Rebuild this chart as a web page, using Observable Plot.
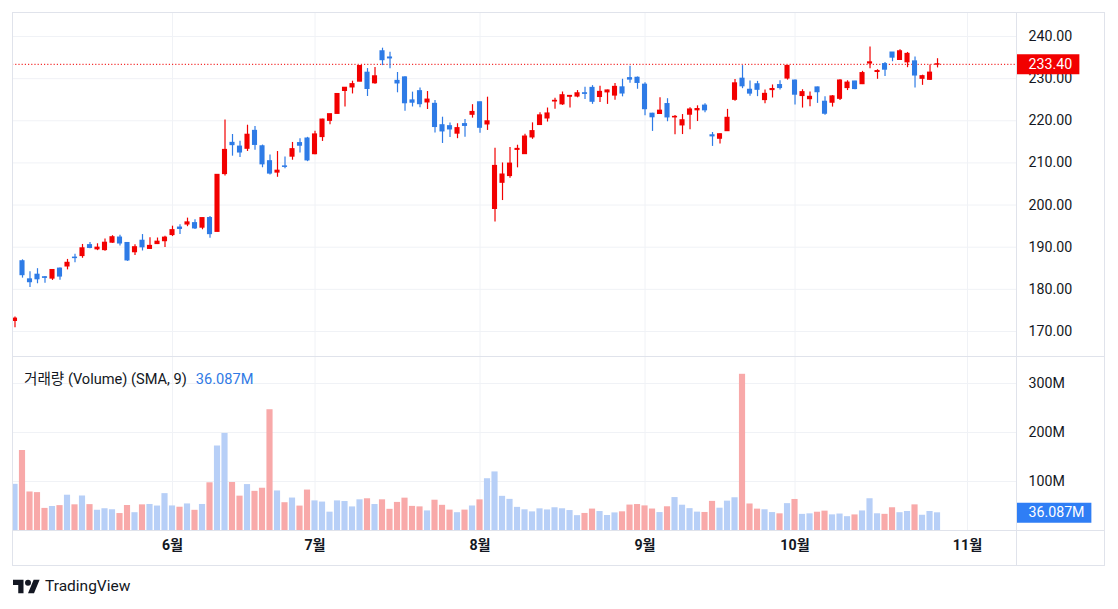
<!DOCTYPE html>
<html><head><meta charset="utf-8">
<script src="https://cdn.jsdelivr.net/npm/d3@7"></script>
<script src="https://cdn.jsdelivr.net/npm/@observablehq/plot@0.6"></script>
<style>
html,body{margin:0;padding:0;background:#fff;}
#wrap{position:relative;width:1118px;height:609px;overflow:hidden;font-family:Roboto,"Noto Sans CJK KR",sans-serif;color:#131722;}
#wrap .pane{position:absolute;left:0;}
.line{position:absolute;background:#e0e3eb;}
#legend{position:absolute;left:24px;top:367px;font-size:14.6px;color:#131722;white-space:nowrap;}
#legend span{color:#2f7ae5;margin-left:9px;}
#logo{position:absolute;left:13px;top:577px;display:flex;align-items:center;gap:5px;font-size:15.5px;color:#131722;}
</style></head>
<body><div id="wrap">
<div id="p1" class="pane" style="top:0"></div>
<div id="p2" class="pane" style="top:356px"></div>
<div class="line" style="left:12px;top:12px;width:1093px;height:1px"></div>
<div class="line" style="left:12px;top:565px;width:1093px;height:1px"></div>
<div class="line" style="left:12px;top:12px;width:1px;height:554px"></div>
<div class="line" style="left:1104px;top:12px;width:1px;height:554px"></div>
<div class="line" style="left:12px;top:356px;width:1093px;height:1px"></div>
<div class="line" style="left:12px;top:530px;width:1093px;height:1px"></div>
<div class="line" style="left:1016px;top:12px;width:1px;height:554px"></div>
<div id="legend">거래량 (Volume) (SMA, 9)<span>36.087M</span></div>
<div id="logo"><svg width="27" height="15" viewBox="0 3 36 20"><path d="M14 22H7V11H0V4h14v18zM28 22h-8l7.5-18h8L28 22z" fill="#131722"/><circle cx="20" cy="8" r="4" fill="#131722"/></svg><span>TradingView</span></div>
</div>
<script>
// ---- data (daily sessions) ----
const dates = [
"2024-05-02","2024-05-03","2024-05-06","2024-05-07","2024-05-08","2024-05-09","2024-05-10","2024-05-13","2024-05-14","2024-05-15","2024-05-16","2024-05-17","2024-05-20","2024-05-21","2024-05-22","2024-05-23","2024-05-24","2024-05-28","2024-05-29","2024-05-30","2024-05-31",
"2024-06-03","2024-06-04","2024-06-05","2024-06-06","2024-06-07","2024-06-10","2024-06-11","2024-06-12","2024-06-13","2024-06-14","2024-06-17","2024-06-18","2024-06-20","2024-06-21","2024-06-24","2024-06-25","2024-06-26","2024-06-27","2024-06-28",
"2024-07-01","2024-07-02","2024-07-03","2024-07-05","2024-07-08","2024-07-09","2024-07-10","2024-07-11","2024-07-12","2024-07-15","2024-07-16","2024-07-17","2024-07-18","2024-07-19","2024-07-22","2024-07-23","2024-07-24","2024-07-25","2024-07-26","2024-07-29","2024-07-30","2024-07-31",
"2024-08-01","2024-08-02","2024-08-05","2024-08-06","2024-08-07","2024-08-08","2024-08-09","2024-08-12","2024-08-13","2024-08-14","2024-08-15","2024-08-16","2024-08-19","2024-08-20","2024-08-21","2024-08-22","2024-08-23","2024-08-26","2024-08-27","2024-08-28","2024-08-29","2024-08-30",
"2024-09-03","2024-09-04","2024-09-05","2024-09-06","2024-09-09","2024-09-10","2024-09-11","2024-09-12","2024-09-13","2024-09-16","2024-09-17","2024-09-18","2024-09-19","2024-09-20","2024-09-23","2024-09-24","2024-09-25","2024-09-26","2024-09-27","2024-09-30",
"2024-10-01","2024-10-02","2024-10-03","2024-10-04","2024-10-07","2024-10-08","2024-10-09","2024-10-10","2024-10-11","2024-10-14","2024-10-15","2024-10-16","2024-10-17","2024-10-18","2024-10-21","2024-10-22","2024-10-23","2024-10-24","2024-10-25","2024-10-28"];
const futureDates = ["2024-10-29","2024-10-30","2024-10-31","2024-11-01","2024-11-04","2024-11-05","2024-11-06","2024-11-07","2024-11-08","2024-11-11"];
const open = [
172.51,186.65,182.35,183.45,182.85,182.56,184.90,185.44,187.51,187.91,190.47,189.51,189.33,191.09,192.27,190.98,188.82,191.51,189.61,190.76,191.44,
192.90,194.64,195.40,195.69,194.65,196.90,193.65,207.37,214.74,213.85,213.37,217.59,213.93,210.39,207.72,209.15,211.50,214.69,215.77,
212.09,216.15,220.00,221.65,227.09,227.93,229.30,231.39,228.92,236.48,235.00,229.45,230.28,224.82,227.01,224.37,224.00,218.93,218.70,216.96,219.19,221.44,
224.37,219.15,199.09,205.30,206.90,213.11,212.10,216.07,219.01,220.57,224.60,223.92,225.72,225.77,226.52,227.79,225.66,226.76,226.00,227.92,230.10,230.19,
228.55,221.66,221.63,223.95,220.82,218.92,221.46,222.50,223.58,216.54,215.75,217.55,224.99,229.97,227.34,228.65,224.93,227.30,228.46,230.04,
229.52,225.89,225.14,227.90,224.50,224.30,225.23,227.78,229.30,228.70,233.61,231.60,233.43,236.18,234.45,233.89,234.08,229.98,229.74,233.32];
const high = [
173.42,187.00,184.20,184.90,183.07,184.66,185.09,187.10,188.30,190.65,191.10,190.81,191.92,192.73,192.82,191.00,190.58,193.00,192.25,192.18,192.57,
194.99,195.32,196.90,196.50,196.94,197.30,207.16,220.20,216.75,215.17,218.95,218.63,214.24,211.89,212.70,211.38,214.86,215.74,216.07,
217.51,220.38,221.55,226.45,227.85,229.40,233.08,232.39,232.64,237.23,236.27,231.46,230.44,226.80,227.78,226.94,224.80,220.85,219.49,219.30,220.33,223.82,
224.48,225.60,213.50,209.99,213.64,214.20,216.78,219.51,221.89,223.03,225.35,226.83,225.99,227.17,227.98,228.34,228.22,227.28,228.85,229.86,232.92,230.40,
229.00,221.78,225.48,225.24,221.27,221.48,223.09,223.55,224.04,217.22,216.90,222.71,229.82,233.09,229.45,229.35,227.29,228.50,229.52,233.00,
229.65,227.37,226.81,228.00,225.69,225.98,229.75,229.50,229.41,231.73,237.49,232.12,233.85,236.18,236.85,236.22,235.14,230.82,233.22,234.73];
const low = [
170.89,182.66,180.42,181.32,181.45,182.11,182.13,184.62,186.29,187.37,189.66,189.18,189.01,190.92,190.27,186.63,188.04,189.10,189.51,190.63,189.91,
192.52,193.03,194.87,194.17,194.14,192.15,193.63,206.90,211.60,211.30,212.72,213.00,208.85,207.11,206.59,208.61,210.64,212.35,210.30,
211.92,215.10,219.03,221.65,223.25,226.37,229.25,225.77,228.68,233.09,232.33,226.64,222.27,223.28,223.09,222.68,217.13,214.62,216.01,215.75,216.12,220.63,
217.02,217.71,196.00,201.07,206.39,208.83,211.97,215.60,219.01,219.70,222.76,223.65,223.04,225.45,225.05,223.90,224.33,223.89,224.89,225.68,228.88,227.48,
221.17,217.48,221.52,219.77,216.71,216.73,217.89,219.82,221.91,213.92,214.50,217.54,224.63,227.62,225.81,225.73,224.02,225.41,227.30,229.65,
223.74,223.02,223.32,224.13,221.33,223.25,224.83,227.17,227.34,228.60,232.37,229.84,230.52,234.01,234.45,232.60,227.76,228.41,229.57,232.55];
const close = [
173.03,183.38,181.71,182.40,182.74,184.57,183.05,186.28,187.43,189.72,189.84,189.87,191.04,192.35,190.90,186.88,189.98,189.99,190.29,191.29,192.25,
194.03,194.35,195.87,194.48,196.89,193.12,207.15,213.07,214.24,212.49,216.67,214.29,209.68,207.49,208.14,209.07,213.25,214.10,210.62,
216.75,220.27,221.55,226.34,227.82,228.68,232.98,227.57,230.54,234.40,234.82,228.88,224.18,224.31,223.96,225.01,218.54,217.49,217.96,218.24,218.80,222.08,
218.36,219.86,209.27,207.23,209.82,213.31,216.24,217.53,221.27,221.72,224.72,226.05,225.89,226.51,226.40,224.53,226.84,227.18,228.03,226.49,229.79,229.00,
222.77,220.85,222.38,220.82,220.91,220.11,222.66,222.77,222.50,216.32,216.79,220.69,228.87,228.20,226.47,227.37,226.37,227.52,227.79,233.00,
226.21,226.78,225.67,226.80,221.69,225.77,229.54,229.04,227.55,231.30,233.85,231.78,232.15,235.00,236.48,235.86,230.76,230.57,231.41,233.40];
const volumeM = [
94.2,163.2,78.6,77.3,45.1,48.98,50.76,72.0,52.4,70.4,52.8,41.3,44.4,42.3,34.6,51.0,36.3,52.3,53.1,49.9,75.2,
50.1,47.5,54.2,41.2,53.1,97.3,172.4,198.1,97.9,70.1,93.7,79.9,86.2,246.4,80.7,56.7,66.2,49.8,82.5,
60.4,58.0,37.4,60.4,59.1,48.1,62.6,64.7,53.0,62.6,43.2,57.3,66.0,49.2,48.2,39.96,61.8,51.4,41.6,36.3,41.6,50.0,
62.5,105.6,119.5,69.7,63.5,47.2,42.2,38.0,44.2,41.96,46.4,44.3,40.7,30.3,34.8,43.7,38.7,30.6,35.9,38.1,51.9,52.99,
50.2,43.8,36.6,48.4,67.2,51.6,44.6,37.5,36.8,59.4,45.5,59.9,66.8,318.7,54.1,43.6,42.3,36.6,34.0,54.8,
63.3,32.9,34.0,37.3,39.5,31.9,33.6,28.2,31.8,39.9,64.8,34.1,32.99,46.4,36.3,38.8,52.3,31.1,38.8,36.087];
const priceTicks = [170,180,190,200,210,220,230,240];
const volumeTicks = [100,200,300];
const monthLabels = ["6월","7월","8월","9월","10월","11월"];
const monthNums = [6,7,8,9,10,11];

// ---- styling / layout ----
const UP = "#f20000", DOWN = "#2e7be6";
const VOL_UP = "#b7cff7", VOL_DOWN = "#f8a9a9";
const GRID = "#f0f2f6";
const FONT = "Roboto, 'Noto Sans CJK KR', sans-serif";
const X_DOMAIN = [-0.333, 133.53];
const LABEL_BARS = 8.45; // width of right-axis value badge, in bar units
const TICK_FS = 14.2;

const candles = dates.map((d, i) => ({i, date: d, open: open[i], high: high[i], low: low[i], close: close[i], vol: volumeM[i]}));
const allDates = dates.concat(futureDates);
const monthTickIdx = monthNums.map(m => allDates.findIndex(d => +d.slice(5,7) === m));
const monthLabelOf = new Map(monthTickIdx.map((v, k) => [v, monthLabels[k]]));
const last = candles[candles.length - 1];

const common = {
  width: 1118, marginLeft: 12, marginRight: 102,
  x: {domain: X_DOMAIN, axis: null},
  color: {type: "identity"},
  style: {fontFamily: FONT, fontSize: "13px", color: "#131722", background: "transparent", overflow: "visible"}
};

const p1 = Plot.plot({
  ...common,
  height: 356, marginTop: 13, marginBottom: 0,
  y: {domain: [164.06, 245.46], axis: null},
  marks: [
    Plot.gridY(priceTicks, {stroke: GRID, strokeOpacity: 1}),
    Plot.gridX(monthTickIdx, {stroke: GRID, strokeOpacity: 1}),
    Plot.axisY(priceTicks, {anchor: "right", label: null, tickSize: 0, tickPadding: 12, tickFormat: d => d.toFixed(2), fill: "#131722", fontSize: TICK_FS}),
    Plot.ruleY([last.close], {stroke: UP, strokeDasharray: "1.2,2", strokeWidth: 1}),
    Plot.ruleX(candles, {x: "i", y1: "low", y2: "high", stroke: d => d.close >= d.open ? UP : DOWN, strokeWidth: 1.2, clip: true}),
    Plot.rect(candles, {x1: d => d.i - 0.34, x2: d => d.i + 0.34, y1: "open", y2: "close", fill: d => d.close >= d.open ? UP : DOWN, insetTop: -0.6, insetBottom: -0.6, clip: true}),
    Plot.ruleY([last.close], {x1: X_DOMAIN[1], x2: X_DOMAIN[1] + LABEL_BARS, stroke: UP, strokeWidth: 20}),
    Plot.text([last.close], {y: d => d, frameAnchor: "right", dx: 12, textAnchor: "start", text: d => d.toFixed(2), fill: "white", fontSize: TICK_FS})
  ]
});
document.getElementById("p1").appendChild(p1);

const p2 = Plot.plot({
  ...common,
  height: 209, marginTop: 0, marginBottom: 35,
  y: {domain: [0, 355], axis: null, label: null},
  marks: [
    Plot.gridY(volumeTicks, {stroke: GRID, strokeOpacity: 1}),
    Plot.gridX(monthTickIdx, {stroke: GRID, strokeOpacity: 1}),
    Plot.axisY(volumeTicks, {anchor: "right", label: null, tickSize: 0, tickPadding: 12, tickFormat: d => d + "M", fill: "#131722", fontSize: TICK_FS}),
    Plot.axisX(monthTickIdx, {anchor: "bottom", label: null, tickSize: 0, tickPadding: 9, tickFormat: d => monthLabelOf.get(d), fontWeight: 700, fill: "#131722", fontSize: TICK_FS}),
    Plot.rect(candles, {x1: d => d.i - 0.41, x2: d => d.i + 0.41, y1: 0, y2: "vol", fill: d => d.close >= d.open ? VOL_UP : VOL_DOWN, clip: true}),
    Plot.ruleY([last.vol], {x1: X_DOMAIN[1], x2: X_DOMAIN[1] + LABEL_BARS + 1.6, stroke: "#2f7ef5", strokeWidth: 20}),
    Plot.text([last.vol], {y: d => d, frameAnchor: "right", dx: 12, textAnchor: "start", text: d => d.toFixed(3) + "M", fill: "white", fontSize: TICK_FS})
  ]
});
document.getElementById("p2").appendChild(p2);
</script>
</body></html>
